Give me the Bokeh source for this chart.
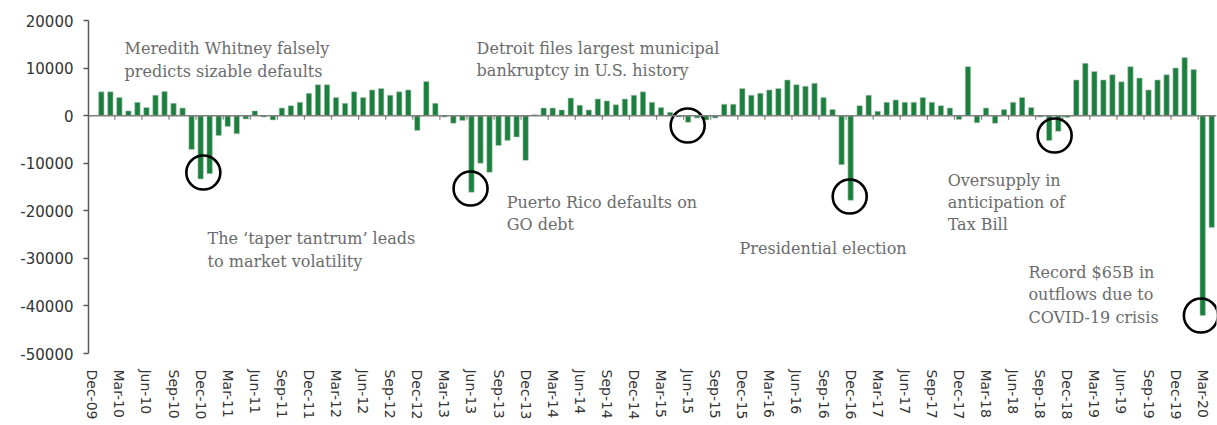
from bokeh.plotting import figure
from bokeh.models import Range1d, FixedTicker, Span, Label, ColumnDataSource
from bokeh.embed import file_html
from bokeh.resources import INLINE

# ---- data (monthly net flows, Dec-09 .. Apr-20) ----
values = [
    0, 5000, 5000, 3800, 1000, 2800, 1700, 4300, 5100, 2600, 1600,
    -7100, -13300, -12200, -4200, -2300, -3800, -700, 1000, -300, -900,
    1600, 2100, 2800, 4700, 6500, 6500, 3800, 2600, 5000, 3800, 5400,
    5700, 4300, 5000, 5400, -3100, 7200, 2600, -300, -1600, -1000,
    -16100, -10000, -11900, -6300, -5200, -4500, -9400, 200, 1600, 1600,
    1200, 3700, 2200, 1200, 3500, 3100, 2300, 3500, 4300, 5000, 2800,
    1700, 700, -300, -1400, -500, -900, -500, 2400, 2400, 5700, 4300,
    4700, 5400, 5700, 7500, 6500, 6200, 6800, 3800, 1300, -10300, -17800,
    2100, 4300, 900, 2800, 3300, 2800, 2800, 3800, 2800, 2100, 1600,
    -800, 10300, -1500, 1600, -1600, 1300, 2800, 3800, 1700, -300,
    -5200, -3300, -400, 7500, 11000, 9300, 7500, 8600, 7100, 10300,
    7900, 5400, 7500, 8600, 10000, 12200, 9700, -42000, -23500,
]

x_tick_labels = [
    "Dec-09", "Mar-10", "Jun-10", "Sep-10", "Dec-10", "Mar-11", "Jun-11",
    "Sep-11", "Dec-11", "Mar-12", "Jun-12", "Sep-12", "Dec-12", "Mar-13",
    "Jun-13", "Sep-13", "Dec-13", "Mar-14", "Jun-14", "Sep-14", "Dec-14",
    "Mar-15", "Jun-15", "Sep-15", "Dec-15", "Mar-16", "Jun-16", "Sep-16",
    "Dec-16", "Mar-17", "Jun-17", "Sep-17", "Dec-17", "Mar-18", "Jun-18",
    "Sep-18", "Dec-18", "Mar-19", "Jun-19", "Sep-19", "Dec-19", "Mar-20",
]
y_ticks = [20000, 10000, 0, -10000, -20000, -30000, -40000, -50000]
y_tick_labels = ["20000", "10000", "0", "-10000", "-20000", "-30000", "-40000", "-50000"]

# events: (category position, value) of the circled points
event_x = [12.3, 41.9, 65.95, 83.9, 106.6, 122.8]
event_y = [-11960, -15330, -2080, -17010, -4180, -42020]

# annotation texts: (x position, y baseline value, text)
notes = [
    (3.58, 14100, "Meredith Whitney falsely"),
    (3.58, 9270, "predicts sizable defaults"),
    (42.57, 14100, "Detroit files largest municipal"),
    (42.57, 9480, "bankruptcy in U.S. history"),
    (12.77, -25830, "The \u2018taper tantrum\u2019 leads"),
    (12.77, -30670, "to market volatility"),
    (45.9, -18270, "Puerto Rico defaults on"),
    (45.9, -22890, "GO debt"),
    (71.7, -27940, "Presidential election"),
    (94.75, -13640, "Oversupply in"),
    (94.75, -18270, "anticipation of"),
    (94.75, -22890, "Tax Bill"),
    (103.7, -32980, "Record $65B in"),
    (103.7, -37610, "outflows due to"),
    (103.7, -42440, "COVID-19 crisis"),
]

n = len(values)
xs = list(range(n))
tick_idx = list(range(0, n, 3))[: len(x_tick_labels)]

src = ColumnDataSource(dict(x=xs, v=values))

p = figure(
    width=1217, height=425,
    output_backend="svg", toolbar_location=None,
    x_range=Range1d(-0.42, 124.53), y_range=Range1d(-50000, 20000),
    min_border_left=88, min_border_right=1, min_border_top=20, min_border_bottom=72,
)
p.outline_line_color = None
p.xgrid.visible = False
p.ygrid.visible = False
p.background_fill_color = "white"

p.vbar(x="x", top="v", bottom=0, width=0.6, source=src,
       fill_color="#1b7f3e", line_color="#b9c9bd", line_width=0.6)

# zero line with tick marks at quarter boundaries
p.add_layout(Span(location=0, dimension="width", line_color="#7f7f7f", line_width=1.5))
bnds = [t - 0.5 for t in tick_idx[1:]]
p.segment(x0=bnds, y0=[0] * len(bnds), x1=bnds, y1=[-850] * len(bnds),
          line_color="#7f7f7f", line_width=1.2)

# circles
p.scatter(x=event_x, y=event_y, marker="circle", size=34,
          fill_color=None, line_color="black", line_width=2.6)

for nx, ny, t in notes:
    p.add_layout(Label(x=nx, y=ny, text=t, text_font="DejaVu Serif",
                       text_font_size="16px", text_color="#6b6b6b",
                       text_baseline="alphabetic", text_align="left"))

# x axis
xa = p.xaxis[0]
xa.ticker = FixedTicker(ticks=tick_idx)
xa.major_label_overrides = {i: lab for i, lab in zip(tick_idx, x_tick_labels)}
xa.major_label_orientation = "vertical"
xa.axis_line_color = None
xa.major_tick_line_color = None
xa.minor_tick_line_color = None
xa.major_label_text_font = "DejaVu Sans"
xa.major_label_text_font_size = "14px"
xa.major_label_text_color = "#333333"
xa.major_label_standoff = 10

# y axis
ya = p.yaxis[0]
ya.ticker = FixedTicker(ticks=y_ticks)
ya.major_label_overrides = {v: s for v, s in zip(y_ticks, y_tick_labels)}
ya.axis_line_color = "#595959"
ya.axis_line_width = 1.5
ya.major_tick_line_color = "#595959"
ya.major_tick_line_width = 1.5
ya.major_tick_out = 5
ya.major_tick_in = 0
ya.minor_tick_line_color = None
ya.major_label_text_font = "DejaVu Sans"
ya.major_label_text_font_size = "15px"
ya.major_label_text_color = "#333333"
ya.major_label_standoff = 10

open("out.html", "w").write(file_html(p, INLINE))
